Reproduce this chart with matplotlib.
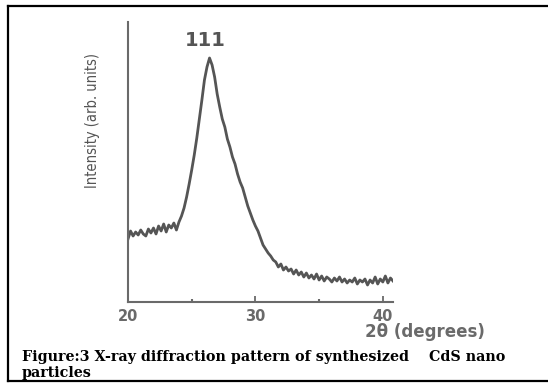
import numpy as np
import matplotlib
matplotlib.use('Agg')
import matplotlib.pyplot as plt
from matplotlib.lines import Line2D

# XRD pattern, 2theta from 20 in 0.2 degree steps
two_theta_start = 20.0
two_theta_step = 0.2
intensity = [
    63, 71, 66, 70, 67, 72, 68, 66, 73, 69,
    74, 68, 76, 71, 78, 70, 77, 74, 79, 72,
    80, 86, 94, 105, 118, 132, 147, 164, 183, 202,
    222, 235, 244, 237, 225, 208, 195, 183, 175, 163,
    155, 145, 138, 128, 120, 114, 105, 96, 89, 82,
    76, 71, 64, 57, 53, 49, 46, 42, 40, 35,
    38, 32, 35, 31, 33, 28, 32, 27, 30, 25,
    29, 24, 27, 23, 28, 22, 26, 21, 25, 23,
    20, 24, 21, 25, 20, 23, 19, 22, 20, 24,
    18, 22, 20, 23, 17, 22, 19, 25, 18, 23,
    20, 26, 19, 24, 21,
]
x_ticks = [20, 30, 40]
x_minor = [25, 35]
peak_label = '111'
peak_pos = (26.1, 262)
caption = ['Figure:3 X-ray diffraction pattern of synthesized    CdS nano',
           'particles']

two_theta = two_theta_start + two_theta_step * np.arange(len(intensity))

W, H = 548, 383
fig = plt.figure(figsize=(W / 100, H / 100), dpi=100)
ax = fig.add_axes([128 / W, 1 - 302 / H, (393 - 128) / W, (302 - 22) / H])

grey = '#555555'
ax.plot(two_theta, intensity, color=grey, lw=2.0)
ax.set_xlim(20, 40.8)
ax.set_ylim(0, 280)

for s in ['top', 'right']:
    ax.spines[s].set_visible(False)
for s in ['left', 'bottom']:
    ax.spines[s].set_color('#6a6a6a')
    ax.spines[s].set_linewidth(1.5)

ax.set_yticks([])
ax.set_xticks(x_ticks)
ax.set_xticks(x_minor, minor=True)
ax.tick_params(axis='x', which='major', direction='in', length=4, width=1.3,
               color='#6a6a6a', pad=5, labelsize=10.5, labelcolor='#6a6a6a')
ax.tick_params(axis='x', which='minor', direction='in', length=2, width=1.5,
               color='#6a6a6a')
for lab in ax.get_xticklabels():
    lab.set_fontweight('bold')

ax.text(peak_pos[0], peak_pos[1], peak_label, ha='center', va='center',
        fontsize=14, fontweight='bold', color='#555555')

fig.text(93 / W, 1 - 120 / H, 'Intensity (arb. units)', rotation=90,
         ha='center', va='center', fontsize=10.5, color='#555555',
         family='DejaVu Sans', fontstretch='condensed')
fig.text(365 / W, 1 - 332 / H, '2\u03b8 (degrees)', ha='left', va='center',
         fontsize=12, fontweight='bold', color='#6a6a6a')

fig.text(22 / W, 1 - 357 / H, caption[0], ha='left', va='center',
         fontsize=10.3, fontweight='bold', family='DejaVu Serif', color='black')
fig.text(22 / W, 1 - 373 / H, caption[1], ha='left', va='center',
         fontsize=10.3, fontweight='bold', family='DejaVu Serif', color='black')

# page frame
lw = 1.6
fig.add_artist(Line2D([8 / W, 1], [1 - 6 / H, 1 - 6 / H], color='black', lw=lw))
fig.add_artist(Line2D([8 / W, 1], [1 - 381 / H, 1 - 381 / H], color='black', lw=lw))
fig.add_artist(Line2D([8 / W, 8 / W], [1 - 6 / H, 1 - 381 / H], color='black', lw=lw))

fig.savefig('out.png', dpi=100)
